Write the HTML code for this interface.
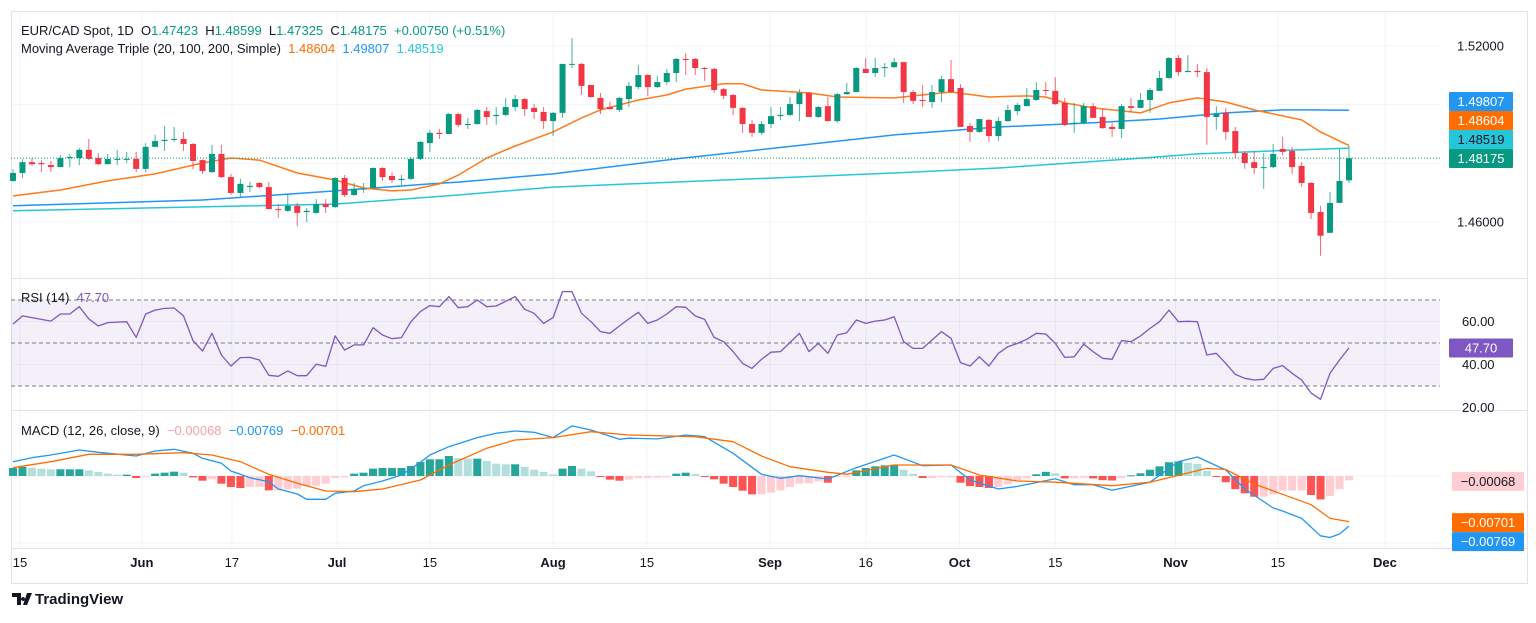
<!DOCTYPE html>
<html><head><meta charset="utf-8">
<style>
html,body{margin:0;padding:0;background:#fff;}
body{width:1536px;height:618px;overflow:hidden;font-family:"Liberation Sans",sans-serif;}
svg text{font-family:"Liberation Sans",sans-serif;white-space:pre;}
</style></head>
<body>
<svg id="chart" width="1536" height="618" viewBox="0 0 1536 618" xmlns="http://www.w3.org/2000/svg" xml:space="preserve">
  <rect x="0" y="0" width="1536" height="618" fill="#ffffff"/>
  <rect x="11.5" y="11.5" width="1516" height="572" fill="none" stroke="#e0e3eb"/>
  <g id="grid"></g>
  <rect x="11" y="300" width="1429" height="86" fill="#7e57c2" fill-opacity="0.09"/>
  <g id="marks"></g>
  <line x1="11" y1="278.5" x2="1527" y2="278.5" stroke="#e0e3eb"/>
  <line x1="11" y1="410.5" x2="1527" y2="410.5" stroke="#e0e3eb"/>
  <line x1="11" y1="548.5" x2="1527" y2="548.5" stroke="#e0e3eb"/>
  <g id="axes"></g>
  <text x="21" y="35" font-size="13" fill="#131722">EUR/CAD Spot, 1D  <tspan fill="#131722">O</tspan><tspan fill="#089981">1.47423</tspan><tspan fill="#131722">  H</tspan><tspan fill="#089981">1.48599</tspan><tspan fill="#131722">  L</tspan><tspan fill="#089981">1.47325</tspan><tspan fill="#131722">  C</tspan><tspan fill="#089981">1.48175  +0.00750 (+0.51%)</tspan></text>
  <text x="21" y="53" font-size="13" fill="#131722">Moving Average Triple (20, 100, 200, Simple)  <tspan fill="#ff6d00">1.48604</tspan>  <tspan fill="#2196f3">1.49807</tspan>  <tspan fill="#26c6da">1.48519</tspan></text>
  <text x="21" y="302" font-size="13" fill="#131722">RSI (14)  <tspan fill="#7e57c2">47.70</tspan></text>
  <text x="21" y="435" font-size="13" fill="#131722">MACD (12, 26, close, 9)  <tspan fill="#f7a1a8">−0.00068</tspan>  <tspan fill="#2196f3">−0.00769</tspan>  <tspan fill="#ff6d00">−0.00701</tspan></text>
  <g>
    <path d="M12 593h9v12h-4v-8h-5z M23 597a2 2 0 1 0 0.01 0z M27 593h5l-5 12h-4z" fill="#131722"/>
    <text x="35" y="604" font-size="15" font-weight="bold" fill="#131722">TradingView</text>
  </g>
</svg>
<script>
// ---------- data ----------
const opens=[1.4740,1.4767,1.4804,1.4801,1.4794,1.4787,1.4818,1.4818,1.4846,1.4818,1.4797,1.4813,1.4813,1.4815,1.4781,1.4856,1.4876,1.4880,1.4883,1.4866,1.4811,1.4770,1.4832,1.4753,1.4699,1.4719,1.4733,1.4719,1.4644,1.4638,1.4655,1.4634,1.4631,1.4661,1.4651,1.4750,1.4692,1.4711,1.4716,1.4784,1.4757,1.4743,1.4747,1.4815,1.4869,1.4904,1.4900,1.4968,1.4931,1.4934,1.4978,1.4961,1.4965,1.4992,1.5019,1.4989,1.4975,1.4944,1.4972,1.5136,1.5139,1.5067,1.5023,1.4992,1.4982,1.5019,1.5060,1.5101,1.5060,1.5077,1.5108,1.5156,1.5156,1.5125,1.5122,1.5053,1.5033,1.4989,1.4934,1.4904,1.4934,1.4961,1.4965,1.5002,1.5040,1.4958,1.4995,1.4944,1.5036,1.5043,1.5122,1.5108,1.5125,1.5128,1.5145,1.5043,1.5016,1.5009,1.5043,1.5087,1.5057,1.4927,1.4907,1.4948,1.4893,1.4944,1.4978,1.4995,1.5016,1.5050,1.5047,1.5006,1.4934,1.4938,1.4995,1.4958,1.4924,1.4917,1.4995,1.4989,1.5016,1.5047,1.5091,1.5159,1.5111,1.5115,1.5111,1.4958,1.4972,1.4910,1.4835,1.4804,1.4784,1.4787,1.4849,1.4842,1.4791,1.4733,1.4634,1.4563,1.4665,1.4742];
const highs=[1.4780,1.4814,1.4818,1.4811,1.4808,1.4828,1.4832,1.4852,1.4883,1.4835,1.4832,1.4846,1.4839,1.4839,1.4869,1.4897,1.4927,1.4924,1.4907,1.4869,1.4814,1.4863,1.4863,1.4764,1.4747,1.4736,1.4736,1.4736,1.4661,1.4695,1.4665,1.4648,1.4678,1.4678,1.4753,1.4760,1.4733,1.4733,1.4787,1.4787,1.4770,1.4760,1.4822,1.4876,1.4914,1.4917,1.4972,1.4972,1.4955,1.4985,1.4992,1.4992,1.5023,1.5033,1.5023,1.5002,1.4992,1.4975,1.5139,1.5227,1.5142,1.5067,1.5040,1.5009,1.5026,1.5077,1.5135,1.5105,1.5098,1.5122,1.5159,1.5176,1.5159,1.5128,1.5125,1.5057,1.5036,1.4992,1.4948,1.4944,1.4992,1.4992,1.5026,1.5053,1.5043,1.4995,1.5026,1.5040,1.5074,1.5128,1.5159,1.5159,1.5142,1.5159,1.5145,1.5050,1.5067,1.5067,1.5098,1.5152,1.5070,1.4938,1.4951,1.4951,1.4958,1.4999,1.5006,1.5057,1.5077,1.5077,1.5094,1.5023,1.5006,1.5006,1.5006,1.4985,1.4938,1.5002,1.5023,1.5040,1.5057,1.5115,1.5163,1.5169,1.5169,1.5139,1.5125,1.4995,1.4989,1.4924,1.4842,1.4842,1.4835,1.4866,1.4890,1.4856,1.4804,1.4736,1.4655,1.4702,1.4849,1.4860];
const lows=[1.4736,1.4750,1.4791,1.4770,1.4770,1.4787,1.4787,1.4794,1.4811,1.4794,1.4797,1.4794,1.4801,1.4770,1.4770,1.4856,1.4842,1.4873,1.4842,1.4780,1.4764,1.4767,1.4750,1.4692,1.4685,1.4702,1.4716,1.4644,1.4614,1.4634,1.4586,1.4600,1.4627,1.4631,1.4648,1.4685,1.4689,1.4699,1.4713,1.4740,1.4733,1.4726,1.4743,1.4811,1.4839,1.4883,1.4900,1.4924,1.4917,1.4931,1.4931,1.4931,1.4961,1.4978,1.4961,1.4951,1.4917,1.4893,1.4955,1.5125,1.5033,1.5023,1.4968,1.4982,1.4975,1.4992,1.5053,1.5030,1.5057,1.5067,1.5077,1.5101,1.5101,1.5081,1.5040,1.5019,1.4965,1.4904,1.4890,1.4897,1.4920,1.4948,1.4961,1.4944,1.4958,1.4955,1.4944,1.4938,1.5033,1.5043,1.5108,1.5094,1.5094,1.5125,1.5006,1.5002,1.4992,1.4989,1.5009,1.5040,1.4924,1.4873,1.4904,1.4873,1.4876,1.4941,1.4965,1.4995,1.5013,1.5033,1.4999,1.4927,1.4904,1.4934,1.4955,1.4917,1.4890,1.4886,1.4975,1.4989,1.4972,1.5047,1.5087,1.5098,1.5111,1.5094,1.4863,1.4914,1.4880,1.4818,1.4781,1.4764,1.4713,1.4784,1.4828,1.4764,1.4719,1.4610,1.4485,1.4563,1.4665,1.4733];
const closes=[1.4767,1.4804,1.4797,1.4797,1.4787,1.4818,1.4822,1.4846,1.4815,1.4797,1.4815,1.4815,1.4815,1.4781,1.4856,1.4876,1.4880,1.4883,1.4866,1.4808,1.4774,1.4832,1.4753,1.4699,1.4730,1.4723,1.4719,1.4644,1.4641,1.4655,1.4631,1.4638,1.4661,1.4651,1.4750,1.4692,1.4713,1.4714,1.4784,1.4753,1.4743,1.4747,1.4815,1.4873,1.4904,1.4900,1.4968,1.4931,1.4934,1.4982,1.4958,1.4965,1.4992,1.5019,1.4985,1.4975,1.4944,1.4972,1.5139,1.5139,1.5064,1.5026,1.4985,1.4985,1.5023,1.5064,1.5101,1.5060,1.5077,1.5108,1.5156,1.5152,1.5125,1.5122,1.5050,1.5030,1.4989,1.4934,1.4904,1.4934,1.4961,1.4965,1.5002,1.5040,1.4958,1.4992,1.4944,1.5036,1.5043,1.5125,1.5108,1.5125,1.5128,1.5145,1.5043,1.5013,1.5013,1.5043,1.5087,1.5043,1.4924,1.4907,1.4951,1.4893,1.4944,1.4982,1.4999,1.5019,1.5050,1.5047,1.5002,1.4931,1.4938,1.4995,1.4955,1.4920,1.4917,1.4995,1.4989,1.5016,1.5050,1.5091,1.5159,1.5111,1.5115,1.5111,1.4958,1.4968,1.4907,1.4835,1.4801,1.4784,1.4787,1.4832,1.4839,1.4787,1.4733,1.4631,1.4553,1.4665,1.4740,1.48175];

const ma20Idx=[0,5,10,15,20,23,26,30,34,37,40,42,45,47,50,53,57,60,62,66,69,71,75,77,79,84,87,93,99,103,107,109,111,114,119,122,125,128,131,136,138,141];
const ma20Val=[1.4689,1.4709,1.4740,1.4764,1.4801,1.4818,1.4811,1.4767,1.4743,1.4716,1.4706,1.4709,1.4730,1.4760,1.4818,1.4859,1.4907,1.4955,1.4982,1.5016,1.5033,1.5053,1.5071,1.5071,1.5050,1.5040,1.5026,1.5023,1.5043,1.5026,1.5030,1.5026,1.5006,1.4989,1.4972,1.5006,1.5023,1.5009,1.4982,1.4948,1.4907,1.48604];
const ma100Idx=[0,20,34,44,47,57,70,93,104,114,121,128,134,137,141];
const ma100Val=[1.4655,1.4675,1.4706,1.4730,1.4736,1.4764,1.4815,1.4897,1.4924,1.4938,1.4951,1.4972,1.4982,1.4982,1.49807];
const ma200Idx=[0,34,47,57,93,104,118,125,136,141];
const ma200Val=[1.4638,1.4661,1.4692,1.4719,1.4767,1.4784,1.4815,1.4832,1.4846,1.48519];

const rsiVals=[58.8,62.6,61.8,61,60.2,63.5,63.5,66.9,61.2,57.9,59.5,59.7,59.9,52.6,63.5,65.3,66.1,66.3,62.6,51.1,46.3,54.5,44.4,39.3,43.2,43.3,42.1,35,34.5,37,34.8,34.8,40.2,39.1,53.3,46.7,49.1,49.1,57.1,53.7,52,52.5,59.9,64.6,67.4,66.9,71.6,66.4,66.9,70,66.9,67.2,69.4,71.6,65.7,63.8,59.1,61.8,73.9,73.9,63.8,59.9,55.3,54.5,57.9,61.2,64.3,59.1,60.7,63.5,66.9,66.6,62.6,
61,52.6,50.6,46,40.5,38.2,42.4,45.7,46,50.2,54.5,46,49.8,45.2,53.7,54.8,60.7,59.1,60.2,60.7,62.2,50.6,47.5,47.5,51.4,55.3,52.2,40.9,39.3,43.6,39.3,45.2,48.3,49.8,51.7,54.5,54.2,49.8,43.3,43.6,49.5,46,42.9,42.4,51.1,50.6,53.3,56.8,59.9,65.3,59.9,60.1,59.9,44.4,45.2,40.5,35.4,33.6,32.8,33.1,38.2,39.5,35.9,32.8,26.7,23.8,35.9,42.1,47.7];

// MACD in units of 1e-5
const histVals=[123,139,128,113,103,103,103,103,87,62,36,21,21,-31,-10,36,51,67,51,-21,-72,-51,-118,-169,-185,-169,-169,-221,-221,-205,-195,-154,-144,-118,-31,-21,36,51,113,123,123,123,154,215,257,257,308,277,267,267,231,190,180,180,139,97,62,26,113,154,113,72,-15,-56,-72,-56,-31,-31,-26,-21,36,51,31,-5,-51,-118,-169,-226,-282,-282,-257,-221,-169,-118,-113,-82,-103,-15,-3,87,123,149,164,174,97,36,-31,-31,-21,-21,-103,-154,-169,-185,-169,-128,-67,-37,27,64,42,-37,-37,-27,-37,-64,-69,-32,11,42,96,149,212,223,202,186,80,-11,-96,-202,-266,-319,-319,-281,-223,-223,-223,-292,-361,-308,-202,-68];
const macdIdx=[0,2,4,7,9,13,15,17,19,20,22,23,24,25,27,28,30,31,33,34,36,37,39,41,43,44,46,49,51,53,55,57,59,61,64,65,68,71,73,76,79,81,83,86,89,93,96,99,101,104,106,110,112,114,116,120,123,125,128,130,133,134,136,138,139,140,141];
const macdVal=[220,282,323,400,365,308,385,411,350,273,196,77,26,-26,-88,-200,-277,-359,-359,-266,-231,-149,-77,15,211,323,451,590,658,693,673,590,770,708,565,581,570,631,605,350,26,-35,5,-46,128,323,159,169,-62,-200,-160,-43,-134,-134,-219,-95,222,293,92,-200,-493,-539,-653,-920,-946,-893,-769];
const sigIdx=[0,4,8,13,18,21,24,27,30,33,36,39,43,46,50,53,57,61,65,72,76,79,82,86,88,93,99,102,106,110,116,120,126,128,131,134,137,139,141];
const sigVal=[128,220,334,334,359,323,220,26,-112,-231,-242,-200,-62,169,427,554,590,682,631,605,528,308,143,57,26,169,169,15,-77,-95,-149,-95,117,100,-123,-282,-442,-653,-701];

const timeTicks=["15","Jun","17","Jul","15","Aug","15","Sep","16","Oct","15","Nov","15","Dec"];
const timeTickIdx=[0.74,13.6,23.1,34.2,44,57,66.9,79.9,90,99.9,110,122.7,133.5,144.8];
const monthTicks=["Jun","Jul","Aug","Sep","Oct","Nov","Dec"];
const priceTicks=[1.52,1.50,1.48,1.46];
const priceTickLabels=["1.52000","","","1.46000"];
const rsiTicks=[60,40,20];
const rsiLevels=[70,50,30];

// ---------- scales ----------
const NS="http://www.w3.org/2000/svg";
const X0=13, STEP=9.475, PLOT_R=1440;
function xAt(i){return X0+STEP*i;}
function yPrice(p){return 46+(1.52-p)*2933;}
function yRsi(v){return 343-(v-50)*2.15;}
function yMacd(v){return 476-v*1e-5*6500;}
function mk(tag,attrs,parent){const e=document.createElementNS(NS,tag);for(const k in attrs)e.setAttribute(k,attrs[k]);parent.appendChild(e);return e;}
const grid=document.getElementById('grid');
const marks=document.getElementById('marks');
const axes=document.getElementById('axes');

priceTicks.forEach((p,k)=>{
  const l=mk('line',{x1:11,x2:PLOT_R,y1:yPrice(p),y2:yPrice(p),stroke:'#f0f3fa'},grid);
  
  
});
[yRsi(60),yRsi(40)].forEach(y=>{
  const l=mk('line',{x1:11,x2:PLOT_R,y1:y,y2:y,stroke:'#f0f3fa'},grid);
  
  
});
[yMacd(0),543].forEach(y=>{
  const l=mk('line',{x1:11,x2:PLOT_R,y1:y,y2:y,stroke:'#f0f3fa'},grid);
  
  
});
timeTickIdx.forEach(i=>{
  const x=xAt(i);
  const l=mk('line',{x1:x,x2:x,y1:12,y2:548,stroke:'#f0f3fa'},grid);
  
  
});

rsiLevels.forEach(v=>{
  const l=mk('line',{x1:11,x2:PLOT_R,y1:yRsi(v),y2:yRsi(v),stroke:'#787b86','stroke-dasharray':'4 3','stroke-width':1},marks);
  
  
});

histVals.forEach((h,i)=>{
  const prev=i>0?histVals[i-1]:h;
  let col;
  if(h>=0) col=(h>=prev)?'#26a69a':'#b2dfdb'; else col=(h<prev)?'#ff5252':'#ffcdd2';
  const y0=yMacd(0), y1=yMacd(h);
  const r=mk('rect',{x:xAt(i)-4,y:Math.min(y0,y1),width:8,height:Math.max(1,Math.abs(y1-y0)),fill:col},marks);
  
  
});

function polyline(idx,vals,yf,color,w,name){
  const pts=idx.map((i,k)=>xAt(i).toFixed(1)+','+yf(vals[k]).toFixed(1)).join(' ');
  const p=mk('polyline',{points:pts,fill:'none',stroke:color,'stroke-width':w,'stroke-linejoin':'round'},marks);
  
  
}
polyline(macdIdx,macdVal,yMacd,'#2196f3',1.3,'macd-line');
polyline(sigIdx,sigVal,yMacd,'#ff6d00',1.3,'signal-line');
polyline(rsiVals.map((v,i)=>i),rsiVals,yRsi,'#7e57c2',1.3,'rsi-line');

polyline(ma200Idx,ma200Val,yPrice,'#26c6da',1.5,'ma200-line');
polyline(ma100Idx,ma100Val,yPrice,'#2196f3',1.5,'ma100-line');
polyline(ma20Idx,ma20Val,yPrice,'#ff7a1a',1.5,'ma20-line');

closes.forEach((c,i)=>{
  const o=opens[i],h=highs[i],l=lows[i];
  const up=c>=o, col=up?'#089981':'#f23645';
  const x=xAt(i);
  const w=mk('line',{x1:x,x2:x,y1:yPrice(h),y2:yPrice(l),stroke:col,'stroke-width':1,'stroke-opacity':0.75},marks);
  
  
  const yt=yPrice(Math.max(o,c)), yb=yPrice(Math.min(o,c));
  const b=mk('rect',{x:x-3,y:yt,width:6,height:Math.max(1,yb-yt),fill:col},marks);
  
  
});

const lastC=closes[closes.length-1];
const dl=mk('line',{x1:11,x2:PLOT_R,y1:yPrice(lastC),y2:yPrice(lastC),stroke:'#089981','stroke-dasharray':'1 2','stroke-width':1},marks);



priceTicks.forEach((p,k)=>{
  if(!priceTickLabels[k])return;
  const t=mk('text',{x:1457,y:yPrice(p)+4.5,'font-size':13,fill:'#131722'},axes);
  t.textContent=priceTickLabels[k];
  
  
});
rsiTicks.forEach(v=>{
  const t=mk('text',{x:1462,y:yRsi(v)+4.5,'font-size':13,fill:'#131722'},axes);
  t.textContent=v.toFixed(2);
  
  
});
timeTicks.forEach((s,k)=>{
  const isM=monthTicks.includes(s);
  const t=mk('text',{x:xAt(timeTickIdx[k]),y:567,'font-size':13,'text-anchor':'middle',fill:'#131722','font-weight':isM?'bold':'normal'},axes);
  t.textContent=s;
  
  
});

function tag(y,text,bg,fg,x,w,name){
  const r=mk('rect',{x:x,y:y-9.5,width:w,height:19,fill:bg,rx:1},axes);
  
  
  const t=mk('text',{x:x+w/2,y:y+4.5,'font-size':13,'text-anchor':'middle',fill:fg},axes);
  t.textContent=text;
  
  
}
const pTags=[
  {v:lastC,t:'1.48175',bg:'#089981',fg:'#fff',n:'close-price'},
  {v:ma200Val[ma200Val.length-1],t:'1.48519',bg:'#26c6da',fg:'#131722',n:'ma200'},
  {v:ma20Val[ma20Val.length-1],t:'1.48604',bg:'#ff6d00',fg:'#fff',n:'ma20'},
  {v:ma100Val[ma100Val.length-1],t:'1.49807',bg:'#2196f3',fg:'#fff',n:'ma100'}
];
let prevY=null;
pTags.forEach(o=>{let y=yPrice(o.v)+0.3; if(prevY!==null) y=Math.min(y,prevY-19); prevY=y; tag(y,o.t,o.bg,o.fg,1449,64,o.n);});
tag(yRsi(rsiVals[rsiVals.length-1]),'47.70','#7e57c2','#fff',1449,64,'rsi-value');
const mTags=[
  {v:histVals[histVals.length-1],t:'−0.00068',bg:'#ffcdd2',fg:'#131722',n:'histogram-value'},
  {v:sigVal[sigVal.length-1],t:'−0.00701',bg:'#ff6d00',fg:'#fff',n:'signal-value'},
  {v:macdVal[macdVal.length-1],t:'−0.00769',bg:'#2196f3',fg:'#fff',n:'macd-value'}
];
prevY=null;
mTags.forEach(o=>{let y=yMacd(o.v)+1; if(prevY!==null) y=Math.max(y,prevY+19); prevY=y; tag(y,o.t,o.bg,o.fg,1452,72,o.n);});
</script>
</body></html>
